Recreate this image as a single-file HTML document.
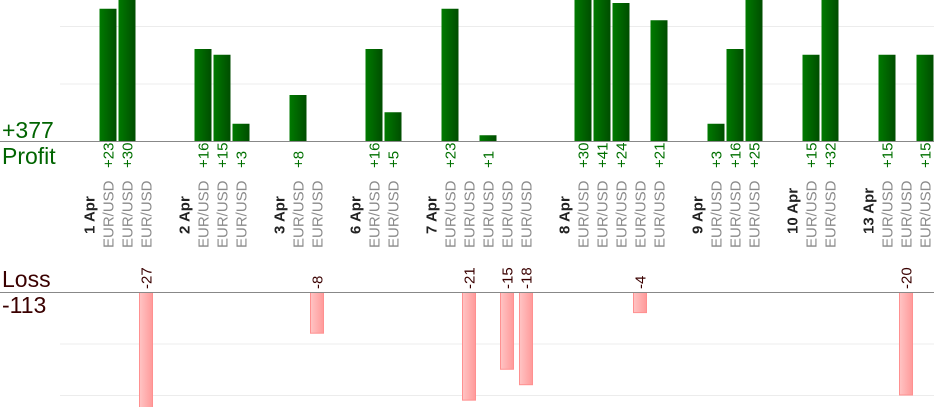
<!DOCTYPE html>
<html><head><meta charset="utf-8"><style>
body{margin:0;background:#fff;width:934px;height:420px;overflow:hidden;font-family:"Liberation Sans",sans-serif}
svg{display:block}
</style></head><body>
<svg id="c" width="934" height="420">
<defs>
<linearGradient id="g" x1="0" x2="1"><stop offset="0" stop-color="#007a00"/><stop offset="1" stop-color="#004d00"/></linearGradient>
<linearGradient id="r" x1="0" x2="1"><stop offset="0" stop-color="#ffc4c4"/><stop offset="1" stop-color="#ff9a9a"/></linearGradient>
<clipPath id="pc"><rect x="0" y="0" width="934" height="141"/></clipPath>
<clipPath id="lc"><rect x="0" y="292" width="934" height="115"/></clipPath>
</defs>
<text x="2" y="138" font-size="23" fill="#006400">+377</text>
<text x="2" y="164" font-size="23" fill="#006400">Profit</text>
<text x="2" y="287" font-size="23" fill="#3a0000">Loss</text>
<text x="2" y="313" font-size="23" fill="#3a0000">-113</text>
<g id="grid"></g>
<g id="marks"></g>
<line x1="0" y1="141.5" x2="934" y2="141.5" stroke="#888"/>
<line x1="0" y1="292.5" x2="934" y2="292.5" stroke="#888"/>
</svg>
<script>
const dates = ["1 Apr","2 Apr","3 Apr","6 Apr","7 Apr","8 Apr","9 Apr","10 Apr","13 Apr"];
const tradeResults = [
 [23,30,-27],
 [16,15,3],
 [8,-8],
 [16,5],
 [23,-21,1,-15,-18],
 [30,41,24,-4,21],
 [3,16,25],
 [15,32],
 [15,-20,15]
];
const pairs = "EUR/USD";
const profitGrid = [10,20];
const lossGrid = [10,20];

const NS="http://www.w3.org/2000/svg";
const marks=document.getElementById('marks'), grid=document.getElementById('grid');
const slotX = i => 70 + 19*i;
const pY = v => 141 - v*5.75;
const lY = v => 292 + v*5.15;
function mk(tag,a,parent){const e=document.createElementNS(NS,tag);for(const k in a)e.setAttribute(k,a[k]);(parent||marks).appendChild(e);return e;}
profitGrid.forEach(v=>{const l=mk('line',{x1:60,x2:934,y1:pY(v)+0.5,y2:pY(v)+0.5,stroke:'#ececec'},grid);

});
lossGrid.forEach(v=>{const l=mk('line',{x1:60,x2:934,y1:lY(v)+0.5,y2:lY(v)+0.5,stroke:'#ececec'},grid);

});
function vtext(x,yBottom,str,size,fill,weight){
 const t=mk('text',{transform:`translate(${x+size*0.36},${yBottom}) rotate(-90)`,'font-size':size,fill:fill,'font-weight':weight||'normal'});
 t.textContent=str;return t;}
let slot=0;
dates.forEach((d,di)=>{
 slot++;
 const dx=slotX(slot);
 const dt=vtext(dx,234,d,15,'#222','bold');
 
 
 slot++;
 tradeResults[di].forEach(v=>{
  const x=slotX(slot);
  const pl=vtext(x,248,pairs,15,'#8a8a8a');
  
  
  if(v>0){
   const b=mk('rect',{x:x-8.5,y:pY(v),width:17,height:141-pY(v),fill:'url(#g)','clip-path':'url(#pc)'});
   
   
   const t=vtext(x,168,'+'+v,15,'#007000');
   
   
  } else {
   const b=mk('rect',{x:x-6.5,y:292.5,width:13,height:lY(-v)-292.5,fill:'url(#r)',stroke:'#ff9090','stroke-width':1,'clip-path':'url(#lc)'});
   
   
   const t=vtext(x,289,String(v),15,'#3a0000');
   
   
  }
  slot++;
 });
});
</script>
</body></html>
